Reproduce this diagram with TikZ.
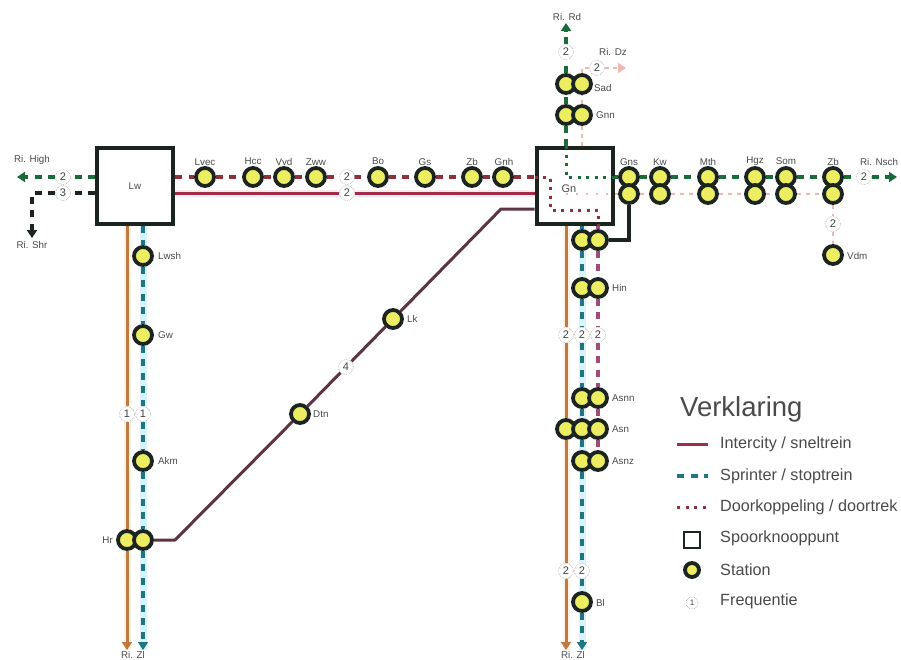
\documentclass[tikz,border=0pt]{standalone}
\usepackage{fontspec}
\setmainfont{Liberation Sans}
\usetikzlibrary{arrows.meta,backgrounds}
\definecolor{cRed}{HTML}{A32B4C}
\definecolor{cDred}{HTML}{8E2F3C}
\definecolor{cPink}{HTML}{F0B8B0}
\definecolor{cGreen}{HTML}{1B6B3A}
\definecolor{cTeal}{HTML}{1F7680}
\definecolor{cOrange}{HTML}{C07A40}
\definecolor{cPurple}{HTML}{5C3444}
\definecolor{cMag}{HTML}{A04C78}
\definecolor{cDark}{HTML}{1C2420}
\definecolor{cYel}{HTML}{EDED62}
\definecolor{cTxt}{HTML}{4A4A4A}
\tikzset{
  stn/.style={circle,draw=cDark,fill=cYel,line width=3.8pt,minimum size=18pt,inner sep=0pt},
  lbl/.style={font=\fontsize{9.8}{11}\selectfont,text=cTxt,inner sep=0pt},
  leg/.style={font=\fontsize{16.2}{18}\selectfont,text=cTxt,inner sep=0pt,anchor=west},
  freq/.style={circle,draw=gray!70,densely dotted,line width=.6pt,fill=white,minimum size=15pt,inner sep=0pt,text=cDark!85,font=\fontsize{11}{12}\selectfont},
  hub/.style={draw=cDark,fill=white,line width=4pt,minimum width=76pt,minimum height=76pt,inner sep=0pt,font=\fontsize{9.8}{11}\selectfont,text=cTxt},
  dsh/.style={line width=3.2pt,dash pattern=on 7pt off 6.5pt},
  dot/.style={line width=3pt,dash pattern=on 3pt off 5.5pt},
  sol/.style={line width=3pt},
  tip/.style={-{Triangle[length=8pt,width=10pt]}},
  halo/.style={line width=7pt,color=#1}
}
\newcommand{\stnn}[3]{\node[stn] (#1) at (#2,#3) {};}
\newcommand{\lab}[3]{\node[lbl] (l#1) at (#2,#3) {#1};}
\begin{document}
\begin{tikzpicture}[x=1pt,y=-1pt]
\useasboundingbox (0,0) rectangle (901,659);
% hubs
\node[hub] (Lw) at (135,186) {Lw};
\node[hub] (Gn) at (574.5,186) {};
% stations on the horizontal
\stnn{lvec}{205}{177}\stnn{hcc}{253}{177}\stnn{vvd}{284}{177}\stnn{zww}{316}{177}
\stnn{bo}{378}{177}\stnn{gs}{425}{177}\stnn{zb}{472}{177}\stnn{gnh}{503}{177}
% right branch
\stnn{gnsa}{629}{177}\stnn{gnsb}{629}{194}
\stnn{kwa}{660}{177}\stnn{kwb}{660}{194}
\stnn{mtha}{708}{177}\stnn{mthb}{708}{194}
\stnn{hgza}{755}{177}\stnn{hgzb}{755}{194}
\stnn{soma}{786}{177}\stnn{somb}{786}{194}
\stnn{zbra}{833}{177}\stnn{zbrb}{833}{194}
\stnn{vdm}{833}{255}
% top branch
\stnn{sada}{566}{84}\stnn{sadb}{582}{84}
\stnn{gnna}{566}{115}\stnn{gnnb}{582}{115}
% south branch
\stnn{gsa}{582}{240}\stnn{gsb}{598}{240}
\stnn{hina}{582}{288}\stnn{hinb}{598}{288}
\stnn{asnna}{582}{398}\stnn{asnnb}{598}{398}
\stnn{asna}{566}{429}\stnn{asnb}{582}{429}\stnn{asnc}{598}{429}
\stnn{asnza}{582}{461}\stnn{asnzb}{598}{461}
\stnn{bl}{582}{602}
% left branch
\stnn{lwsh}{143}{256}\stnn{gw}{143}{335}\stnn{akm}{143}{461}
\stnn{hra}{127}{540}\stnn{hrb}{143}{540}
% diagonal
\stnn{dtn}{300}{414}\stnn{lk}{393}{319}
% free ends
\coordinate (eHigh) at (17,177);
\coordinate (eShrC) at (32,193);
\coordinate (eShr) at (32,238);
\coordinate (eRd) at (566,23);
\coordinate (eDzC) at (582,68);
\coordinate (eDz) at (626,68);
\coordinate (eNsch) at (897,177);
\coordinate (eLzO) at (127,650);
\coordinate (eLzT) at (143,650);
\coordinate (eRzO) at (566,650);
\coordinate (eRzT) at (582,650);
\coordinate (kA) at (175,540);
\coordinate (kB) at (501,209);
\coordinate (kC) at (629,240);
\coordinate (iA) at (550,177);
\coordinate (iB) at (550,210);
\coordinate (iC) at (598,210);
\coordinate (iD) at (566,177);
% frequencies
\node[freq] (f1) at (63,177) {2};
\node[freq] (f2) at (63,193) {3};
\node[freq] (f3) at (347,177) {2};
\node[freq] (f4) at (347,193) {2};
\node[freq] (f5) at (566,52) {2};
\node[freq] (f6) at (597,68) {2};
\node[freq] (f7) at (864,177) {2};
\node[freq] (f8) at (833,224) {2};
\node[freq] (f9) at (346,367) {4};
\node[freq] (f10) at (127,414) {1};
\node[freq] (f11) at (143,414) {1};
\node[freq] (f12) at (566,335) {2};
\node[freq] (f13) at (582,335) {2};
\node[freq] (f14) at (598,335) {2};
\node[freq] (f15) at (566,571) {2};
\node[freq] (f16) at (582,571) {2};
% connectors
\begin{scope}[on background layer]
  % halos
  \draw[halo=cyan!15] (Lw.south -| lwsh) -- (eLzT);
  \draw[halo=cyan!15] (Gn.south -| gsa) -- (eRzT);
  \draw[halo=orange!10] (Lw.south -| hra) -- (eLzO);
  \draw[halo=orange!10] (Gn.south -| asna) -- (eRzO);
  \draw[halo=red!8] (Lw.east |- f4) -- (Gn.west |- f4);
  % horizontal trunk
  \draw[dsh,cDred] (Lw.east |- lvec) -- (lvec) -- (hcc) -- (vvd) -- (zww) -- (bo) -- (gs) -- (zb) -- (gnh) -- (Gn.west |- gnh);
  \draw[sol,cRed] (Lw.east |- f4) -- (f4) -- (Gn.west |- f4);
  % west
  \draw[dsh,cGreen,tip] (Lw.west |- f1) -- (f1) -- (eHigh);
  \draw[dsh,cDark,tip] (Lw.west |- f2) -- (f2) -- (eShrC) -- (eShr);
  % north
  \draw[dsh,cGreen,tip] (Gn.north -| gnna) -- (gnna) -- (sada) -- (f5) -- (eRd);
  \draw[line width=2pt,cPink,dash pattern=on 4pt off 4pt,tip] (Gn.north -| gnnb) -- (gnnb) -- (sadb) -- (eDzC) -- (f6) -- (eDz);
  % east
  \draw[dsh,cGreen,tip] (Gn.east |- gnsa) -- (gnsa) -- (kwa) -- (mtha) -- (hgza) -- (soma) -- (zbra) -- (f7) -- (eNsch);
  \draw[line width=2pt,cPink,dash pattern=on 4pt off 5pt] (Gn.east |- gnsb) -- (gnsb) -- (kwb) -- (mthb) -- (hgzb) -- (somb) -- (zbrb) -- (f8) -- (vdm);
  % left south
  \draw[sol,cOrange,tip] (Lw.south -| hra) -- (f10) -- (hra) -- (eLzO);
  \draw[dsh,cTeal,tip] (Lw.south -| lwsh) -- (lwsh) -- (gw) -- (f11) -- (akm) -- (hrb) -- (eLzT);
  % right south
  \draw[sol,cOrange,tip] (Gn.south -| asna) -- (f12) -- (asna) -- (f15) -- (eRzO);
  \draw[dsh,cTeal,tip] (Gn.south -| gsa) -- (gsa) -- (hina) -- (f13) -- (asnna) -- (asnb) -- (asnza) -- (f16) -- (bl) -- (eRzT);
  \draw[dsh,cMag] (Gn.south -| gsb) -- (gsb) -- (hinb) -- (f14) -- (asnnb) -- (asnc) -- (asnzb);
  % diagonal
  \draw[sol,cPurple,line join=round] (hrb) -- (kA) -- (dtn) -- (f9) -- (lk) -- (kB) -- (Gn.west |- kB);
  \draw[cDark,line width=3.6pt,line join=miter] (gnsb) -- (kC) -- (gsb);
\end{scope}
% inside the Gn hub
\draw[dot,cDred] (Gn.west |- iA) -- (iA) -- (iB) -- (iC) -- (Gn.south -| iC);
\draw[dot,cGreen] (Gn.north -| iD) -- (iD) -- (Gn.east |- iD);
\draw[line width=1.6pt,cPink,dash pattern=on 2pt off 8pt] (iD |- gnsb) -- (Gn.east |- gnsb);
\node[lbl,font=\fontsize{11}{12}\selectfont,fill=white,inner sep=.5pt] (lGn) at (569,189) {Gn};
% labels
\node[lbl] (a1) at (32,160) {Ri. High};
\node[lbl] (a2) at (32,245) {Ri. Shr};
\node[lbl] (a3) at (567,17) {Ri. Rd};
\node[lbl] (a4) at (613,52) {Ri. Dz};
\node[lbl] (a5) at (879,162) {Ri. Nsch};
\node[lbl] (a6) at (133,655) {Ri. Zl};
\node[lbl] (a7) at (573,655) {Ri. Zl};
\lab{Lvec}{205}{162}\lab{Hcc}{253}{161}\lab{Vvd}{284}{162}\lab{Zww}{316}{162}
\lab{Bo}{378}{161}\lab{Gs}{425}{162}\lab{Zb}{472}{162}\lab{Gnh}{504}{162}
\lab{Gns}{629}{162}\lab{Kw}{660}{162}\lab{Mth}{708}{162}\lab{Hgz}{755}{161}\lab{Som}{786}{161}
\node[lbl] (lZbr) at (833,162) {Zb};
\node[lbl,anchor=west] (lVdm) at (847,256) {Vdm};
\node[lbl,anchor=west] (lSad) at (594,88) {Sad};
\node[lbl,anchor=west] (lGnn) at (596,115) {Gnn};
\node[lbl,anchor=west] (lHin) at (612,288) {Hin};
\node[lbl,anchor=west] (lAsnn) at (612,398) {Asnn};
\node[lbl,anchor=west] (lAsn) at (612,429) {Asn};
\node[lbl,anchor=west] (lAsnz) at (612,461) {Asnz};
\node[lbl,anchor=west] (lBl) at (596,603) {Bl};
\node[lbl,anchor=west] (lLwsh) at (158,256) {Lwsh};
\node[lbl,anchor=west] (lGw) at (158,335) {Gw};
\node[lbl,anchor=west] (lAkm) at (158,461) {Akm};
\node[lbl,anchor=east] (lHr) at (113,540) {Hr};
\node[lbl,anchor=west] (lDtn) at (313,414) {Dtn};
\node[lbl,anchor=west] (lLk) at (407,319) {Lk};
% legend
\node[inner sep=0pt,anchor=west,text=cTxt,font=\fontsize{27.5}{30}\selectfont] (vk) at (680,409) {Verklaring};
\coordinate (ka) at (677,444);\coordinate (kb) at (708,444);
\coordinate (kc) at (677,476);\coordinate (kd) at (708,476);
\coordinate (ke) at (677,507);\coordinate (kf) at (708,507);
\draw[sol,cRed] (ka) -- (kb);
\draw[dsh,cTeal] (kc) -- (kd);
\draw[dot,cDred] (ke) -- (kf);
\node[leg] (t1) at (720,444) {Intercity / sneltrein};
\node[leg] (t2) at (720,476) {Sprinter / stoptrein};
\node[leg] (t3) at (720,507) {Doorkoppeling / doortrek};
\node[leg] (t4) at (720,538) {Spoorknooppunt};
\node[leg] (t5) at (720,570) {Station};
\node[leg] (t6) at (720,601) {Frequentie};
\node[draw=cDark,line width=2.4pt,minimum size=16pt,inner sep=0pt] (k4) at (692,540) {};
\node[stn,minimum size=14pt] (k5) at (692,570) {};
\node[freq,minimum size=12pt,font=\fontsize{8}{9}\selectfont] (k6) at (692,603) {1};
\end{tikzpicture}
\end{document}
